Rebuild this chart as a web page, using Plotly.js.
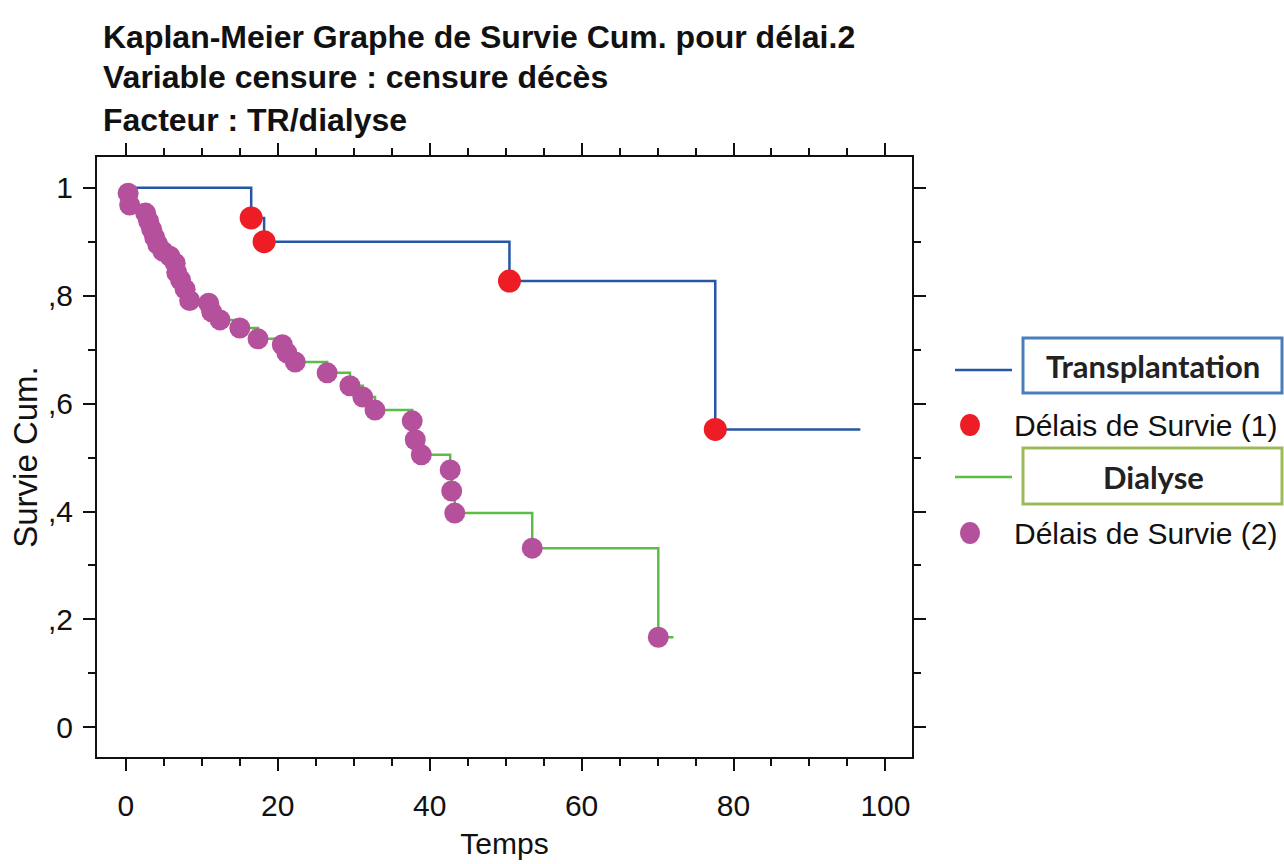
<!DOCTYPE html>
<html>
<head>
<meta charset="utf-8">
<script src="https://cdn.plot.ly/plotly-3.0.1.min.js"></script>
<style>
  html, body { margin: 0; padding: 0; background: #ffffff; }
  #chart { width: 1284px; height: 864px; }
</style>
</head>
<body>
<div id="chart"></div>
<script>
// ---- Data ----
// Transplantation (group 1): step curve and event points
const transStepTime = [0, 16.5, 18.2, 50.5, 77.6, 96.7];
const transStepSurv = [1.0, 0.944, 0.900, 0.827, 0.552, 0.552];
const transEventTime = [16.5, 18.2, 50.5, 77.6];
const transEventSurv = [0.944, 0.900, 0.827, 0.552];

// Dialyse (group 2): event points
const dialEventTime = [0.3, 0.5, 2.6, 3.0, 3.4, 3.8, 4.2, 4.9, 5.8, 6.5, 6.7, 7.2, 7.8, 8.4,
  10.9, 11.3, 12.4, 15.0, 17.4, 20.6, 21.2, 22.3, 26.5, 29.5, 31.2, 32.8,
  37.7, 38.1, 38.9, 42.7, 42.9, 43.3, 53.5, 70.1];
const dialEventSurv = [0.990, 0.968, 0.953, 0.938, 0.923, 0.908, 0.895, 0.882, 0.873, 0.860, 0.843, 0.829, 0.812, 0.791,
  0.786, 0.770, 0.755, 0.740, 0.720, 0.709, 0.694, 0.677, 0.657, 0.633, 0.612, 0.588,
  0.568, 0.533, 0.505, 0.477, 0.438, 0.397, 0.332, 0.167];
const dialStartTime = 0;
const dialStartSurv = 1.0;
const dialEndTime = 72.1;

// Tick labels
const xTickVals = [0, 20, 40, 60, 80, 100];
const xTickText = ["0", "20", "40", "60", "80", "100"];
const yTickVals = [0, 0.2, 0.4, 0.6, 0.8, 1];
const yTickText = ["0", ",2", ",4", ",6", ",8", "1"];

// Texts
const titleLines = [
  "Kaplan-Meier Graphe de Survie Cum. pour délai.2",
  "Variable censure : censure décès",
  "Facteur : TR/dialyse"
];
const legendGroups = ["Transplantation", "Dialyse"];
const legendPoints = ["Délais de Survie (1)", "Délais de Survie (2)"];

// ---- Build ----
const dialStepTime = [dialStartTime].concat(dialEventTime, [dialEndTime]);
const dialStepSurv = [dialStartSurv].concat(dialEventSurv, [dialEventSurv[dialEventSurv.length - 1]]);

const BLUE = "#2457a6";
const RED = "#ee1c25";
const GREEN = "#5bbd45";
const MAGENTA = "#b5509c";

const traces = [
  { x: dialStepTime, y: dialStepSurv, mode: "lines", line: { shape: "hv", color: GREEN, width: 2.5 }, hoverinfo: "skip", showlegend: false },
  { x: transStepTime, y: transStepSurv, mode: "lines", line: { shape: "hv", color: BLUE, width: 2.5 }, hoverinfo: "skip", showlegend: false },
  { x: dialEventTime, y: dialEventSurv, mode: "markers", marker: { color: MAGENTA, size: 21, line: { width: 0 } }, showlegend: false },
  { x: transEventTime, y: transEventSurv, mode: "markers", marker: { color: RED, size: 23, line: { width: 0 } }, showlegend: false }
];

// plot area in pixels: left 97, right 912, top 157, bottom 757
const PL = 97, PR = 912, PT = 157, PB = 757;
const px = v => (v - PL) / (PR - PL);
const py = v => (PB - v) / (PB - PT);

const tickFont = { family: "Liberation Sans, Arial, sans-serif", size: 30, color: "#111" };
const yTitleFont = { family: "Liberation Sans, Arial, sans-serif", size: 33, color: "#111" };

const annotations = [];
const titleY = [37, 77, 120];
titleLines.forEach((t, i) => {
  annotations.push({
    text: t, xref: "paper", yref: "paper", x: px(101), y: py(titleY[i]),
    xanchor: "left", yanchor: "middle", showarrow: false,
    font: { family: "Liberation Sans, Arial, sans-serif", size: 32, color: "#111", weight: "bold" }
  });
});

const groupFont = { family: "Lato, Open Sans, sans-serif", size: 31, color: "#222", weight: "bold" };
const pointFont = { family: "Liberation Sans, Arial, sans-serif", size: 30, color: "#111" };
annotations.push({ text: legendGroups[0], xref: "paper", yref: "paper", x: px(1153), y: py(366), xanchor: "center", yanchor: "middle", showarrow: false, font: groupFont });
annotations.push({ text: legendGroups[1], xref: "paper", yref: "paper", x: px(1153), y: py(477), xanchor: "center", yanchor: "middle", showarrow: false, font: groupFont });
annotations.push({ text: legendPoints[0], xref: "paper", yref: "paper", x: px(1012), y: py(425), xanchor: "left", yanchor: "middle", showarrow: false, font: pointFont });
annotations.push({ text: legendPoints[1], xref: "paper", yref: "paper", x: px(1012), y: py(533), xanchor: "left", yanchor: "middle", showarrow: false, font: pointFont });

const shapes = [
  { type: "line", xref: "paper", yref: "paper", x0: px(955), x1: px(1012), y0: py(370), y1: py(370), line: { color: BLUE, width: 2.5 } },
  { type: "rect", xref: "paper", yref: "paper", x0: px(1023), x1: px(1282), y0: py(393), y1: py(338), line: { color: "#4a7ebb", width: 3 } },
  { type: "circle", xref: "paper", yref: "paper", xsizemode: "pixel", ysizemode: "pixel", xanchor: px(970), yanchor: py(425), x0: -10, x1: 10, y0: -11, y1: 11, fillcolor: RED, line: { width: 0 } },
  { type: "line", xref: "paper", yref: "paper", x0: px(955), x1: px(1012), y0: py(477), y1: py(477), line: { color: GREEN, width: 2.5 } },
  { type: "rect", xref: "paper", yref: "paper", x0: px(1023), x1: px(1282), y0: py(504), y1: py(448), line: { color: "#9bbb59", width: 3 } },
  { type: "circle", xref: "paper", yref: "paper", xsizemode: "pixel", ysizemode: "pixel", xanchor: px(970), yanchor: py(533), x0: -10, x1: 10, y0: -11, y1: 11, fillcolor: MAGENTA, line: { width: 0 } }
];

const layout = {
  width: 1284, height: 864,
  margin: { l: PL, r: 1284 - PR, t: PT, b: 864 - PB, pad: 0 },
  paper_bgcolor: "#ffffff", plot_bgcolor: "#ffffff",
  showlegend: false,
  xaxis: {
    range: [-3.8, 103.5], showgrid: false, zeroline: false,
    showline: true, linecolor: "#111", linewidth: 2, mirror: "allticks",
    ticks: "outside", ticklen: 12, tickwidth: 2, tickcolor: "#111",
    tickvals: xTickVals, ticktext: xTickText, tickfont: tickFont, ticklabelstandoff: 9,
    minor: { dtick: 5, tick0: 0, ticks: "outside", ticklen: 7, tickwidth: 2, tickcolor: "#111", showgrid: false },
    title: { text: "Temps", font: tickFont, standoff: 12 }
  },
  yaxis: {
    range: [-0.055, 1.057], showgrid: false, zeroline: false,
    showline: true, linecolor: "#111", linewidth: 2, mirror: "allticks",
    ticks: "outside", ticklen: 12, tickwidth: 2, tickcolor: "#111",
    tickvals: yTickVals, ticktext: yTickText, tickfont: tickFont, ticklabelstandoff: 4,
    minor: { dtick: 0.1, tick0: 0, ticks: "outside", ticklen: 7, tickwidth: 2, tickcolor: "#111", showgrid: false },
    title: { text: "Survie Cum.", font: yTitleFont, standoff: 0 }
  },
  annotations: annotations,
  shapes: shapes
};

Plotly.newPlot("chart", traces, layout, { staticPlot: true, displayModeBar: false });
</script>
</body>
</html>
